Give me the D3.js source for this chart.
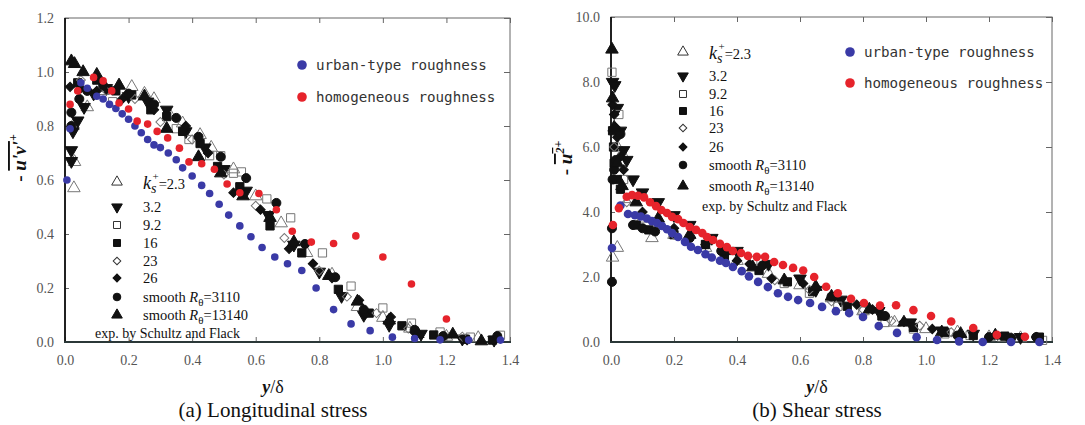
<!DOCTYPE html>
<html><head><meta charset="utf-8">
<script src="https://cdn.jsdelivr.net/npm/d3@7"></script>
<style>body{margin:0;background:#fff}svg{display:block}</style>
</head><body><svg id="c" width="1085" height="425"></svg>
<script>
// ---------- DATA ----------
const xTicks = [0, 0.2, 0.4, 0.6, 0.8, 1.0, 1.2, 1.4];
const yTicksA = [0, 0.2, 0.4, 0.6, 0.8, 1.0, 1.2];
const yTicksB = [0, 2, 4, 6, 8, 10];

const urbanA = [[0.006,0.60],[0.016,0.79],[0.05,0.96],[0.07,0.94],[0.10,0.91],[0.12,0.90],[0.14,0.88],[0.16,0.865],[0.18,0.845],[0.20,0.825],[0.22,0.80],[0.24,0.775],[0.26,0.75],[0.28,0.73],[0.30,0.72],[0.325,0.70],[0.35,0.675],[0.37,0.645],[0.40,0.615],[0.43,0.58],[0.455,0.55],[0.485,0.51],[0.515,0.47],[0.55,0.43],[0.585,0.39],[0.62,0.35],[0.66,0.315],[0.70,0.29],[0.745,0.265],[0.79,0.20],[0.845,0.12],[0.90,0.067],[0.96,0.042],[1.03,0.018],[1.10,0.013],[1.18,0.008],[1.27,0.007],[1.37,0.007]];
const homoA = [[0.016,0.88],[0.04,0.93],[0.09,0.98],[0.12,0.967],[0.147,0.93],[0.17,0.885],[0.20,0.863],[0.227,0.818],[0.26,0.807],[0.29,0.78],[0.323,0.756],[0.36,0.718],[0.39,0.667],[0.43,0.66],[0.47,0.64],[0.51,0.585],[0.55,0.553],[0.61,0.55],[0.665,0.49],[0.715,0.41],[0.775,0.37],[0.845,0.365],[0.915,0.393],[1.0,0.315],[1.09,0.215],[1.20,0.085]];

const ks23A = [[0.028,0.57],[0.03,0.667],[0.025,0.80],[0.07,0.87],[0.12,0.93],[0.17,0.95],[0.21,0.945],[0.25,0.92],[0.28,0.90],[0.33,0.84],[0.37,0.81],[0.425,0.767],[0.46,0.72],[0.53,0.64],[0.60,0.54],[0.68,0.44],[0.76,0.33],[0.84,0.25],[0.92,0.13],[1.0,0.09],[1.085,0.05],[1.2,0.02],[1.3,0.015]];
const ks32A = [[0.02,0.67],[0.02,0.71],[0.025,0.78],[0.04,0.82],[0.06,0.87],[0.09,0.92],[0.13,0.94],[0.20,0.91],[0.26,0.89],[0.32,0.86],[0.38,0.78],[0.44,0.72],[0.50,0.64],[0.57,0.56],[0.64,0.47],[0.72,0.36],[0.80,0.26],[0.87,0.17],[0.94,0.10],[1.02,0.063],[1.12,0.03],[1.25,0.012],[1.35,0.008]];
const ks92A = [[0.15,0.89],[0.35,0.79],[0.39,0.75],[0.455,0.69],[0.49,0.69],[0.53,0.625],[0.555,0.63],[0.635,0.53],[0.71,0.46],[0.81,0.33],[0.90,0.207],[1.0,0.126],[1.09,0.07],[1.18,0.037],[1.275,0.018],[1.37,0.025]];
const ks16A = [[0.04,0.96],[0.10,0.97],[0.16,0.93],[0.21,0.915],[0.27,0.86],[0.32,0.835],[0.37,0.78],[0.425,0.735],[0.48,0.65],[0.55,0.575],[0.645,0.43],[0.745,0.33],[0.86,0.195],[0.957,0.107],[1.06,0.06],[1.16,0.026],[1.26,0.01],[1.345,0.007]];
const ks23dA = [[0.05,0.97],[0.13,0.93],[0.22,0.90],[0.30,0.815],[0.40,0.75],[0.50,0.62],[0.60,0.505],[0.69,0.385],[0.80,0.264],[0.887,0.168],[0.98,0.107],[1.08,0.05],[1.25,0.02]];
const ks26A = [[0.016,0.945],[0.05,0.94],[0.10,0.93],[0.18,0.90],[0.28,0.86],[0.38,0.80],[0.45,0.70],[0.53,0.553],[0.615,0.49],[0.705,0.345],[0.78,0.29],[0.84,0.237],[0.925,0.155],[0.945,0.103],[1.025,0.093],[1.10,0.035],[1.265,0.007]];
const sm3110A = [[0.02,0.80],[0.02,0.85],[0.045,0.90],[0.07,0.93],[0.12,0.95],[0.20,0.92],[0.28,0.88],[0.35,0.83],[0.42,0.76],[0.49,0.686],[0.57,0.607],[0.665,0.515],[0.755,0.363],[0.85,0.24],[0.94,0.12],[1.10,0.045],[1.19,0.022],[1.36,0.022]];
const sm13140A = [[0.02,1.04],[0.03,1.03],[0.057,1.0],[0.10,0.99],[0.17,0.95],[0.25,0.91],[0.32,0.79],[0.42,0.685],[0.49,0.625],[0.56,0.54],[0.645,0.46],[0.72,0.37],[0.83,0.245],[0.92,0.15],[1.02,0.08],[1.11,0.03],[1.22,0.028],[1.31,0.003]];

const urbanB = [[0.003,2.89],[0.03,4.2],[0.054,3.94],[0.076,3.9],[0.095,3.86],[0.114,3.8],[0.13,3.72],[0.146,3.66],[0.162,3.57],[0.178,3.47],[0.194,3.35],[0.213,3.23],[0.235,3.08],[0.254,2.93],[0.276,2.83],[0.30,2.7],[0.32,2.6],[0.346,2.5],[0.365,2.43],[0.387,2.31],[0.415,2.18],[0.438,2.02],[0.467,1.85],[0.498,1.69],[0.53,1.5],[0.562,1.39],[0.594,1.29],[0.632,1.2],[0.67,1.08],[0.714,0.95],[0.756,0.89],[0.80,0.77],[0.85,0.49],[0.908,0.28],[0.97,0.15],[1.035,0.06],[1.105,0.02],[1.18,0.0],[1.27,0.0],[1.36,0.0]];
const homoB = [[0.006,3.6],[0.025,4.12],[0.05,4.47],[0.067,4.52],[0.086,4.5],[0.105,4.45],[0.124,4.3],[0.143,4.18],[0.16,4.06],[0.178,3.97],[0.194,3.85],[0.213,3.78],[0.23,3.66],[0.25,3.54],[0.27,3.45],[0.29,3.35],[0.305,3.23],[0.324,3.14],[0.346,3.02],[0.368,2.92],[0.387,2.8],[0.413,2.74],[0.435,2.65],[0.463,2.62],[0.489,2.62],[0.518,2.46],[0.546,2.37],[0.578,2.28],[0.61,2.2],[0.645,2.0],[0.683,1.7],[0.72,1.5],[0.762,1.33],[0.803,1.2],[0.854,1.12],[0.905,1.13],[0.96,0.98],[1.016,0.8],[1.08,0.63],[1.15,0.43],[1.225,0.22],[1.314,0.16]];

const ks23B = [[0.005,2.6],[0.02,2.9],[0.035,5.8],[0.02,6.0],[0.06,4.4],[0.10,3.8],[0.13,3.2],[0.20,3.3],[0.30,2.9],[0.40,2.5],[0.50,2.1],[0.60,1.75],[0.70,1.35],[0.80,0.95],[0.90,0.6],[1.0,0.4],[1.10,0.3],[1.20,0.15],[1.30,0.12]];
const ks32B = [[0.005,8.0],[0.012,7.9],[0.02,7.2],[0.03,6.5],[0.04,5.9],[0.05,5.6],[0.07,5.0],[0.10,4.6],[0.15,4.3],[0.20,3.9],[0.25,3.6],[0.32,3.2],[0.40,2.8],[0.50,2.4],[0.60,1.95],[0.65,1.6],[0.73,1.3],[0.85,0.95],[0.95,0.6],[1.05,0.35],[1.15,0.25],[1.30,0.15]];
const ks92B = [[0.003,8.3],[0.025,7.0],[0.04,5.0],[0.15,3.6],[0.30,3.0],[0.45,2.5],[0.55,1.8],[0.63,1.5],[0.72,1.1],[0.80,0.95],[0.87,0.6],[0.96,0.4],[1.06,0.25],[1.14,0.2],[1.24,0.15],[1.37,0.05]];
const ks16B = [[0.005,6.5],[0.008,6.0],[0.01,5.5],[0.02,5.0],[0.03,4.7],[0.08,3.6],[0.12,3.45],[0.20,3.3],[0.30,3.0],[0.36,2.6],[0.47,2.2],[0.56,1.85],[0.64,1.55],[0.75,1.1],[0.86,0.8],[0.96,0.45],[1.06,0.3],[1.15,0.2],[1.25,0.18],[1.36,0.15]];
const ks23dB = [[0.01,6.0],[0.05,4.3],[0.20,3.3],[0.40,2.5],[0.52,1.9],[0.63,1.6],[0.70,1.25],[0.80,1.0],[0.89,0.65],[0.98,0.5],[1.08,0.3],[1.27,0.15]];
const ks26B = [[0.005,7.3],[0.01,7.0],[0.015,6.6],[0.02,6.3],[0.03,5.7],[0.04,5.3],[0.10,4.0],[0.20,3.5],[0.30,3.0],[0.40,2.5],[0.44,2.4],[0.51,1.95],[0.61,1.8],[0.71,1.4],[0.78,1.15],[0.83,1.0],[0.93,0.62],[1.02,0.4],[1.11,0.2],[1.26,0.15],[1.35,0.15]];
const sm3110B = [[0.003,1.85],[0.003,3.5],[0.005,5.0],[0.01,5.3],[0.015,5.6],[0.03,6.4],[0.07,3.6],[0.10,3.5],[0.14,3.4],[0.25,3.2],[0.35,2.8],[0.48,2.35],[0.70,1.4],[0.87,0.8],[1.10,0.2],[1.20,0.15],[1.27,0.12],[1.35,0.15]];
const sm13140B = [[0.003,9.0],[0.005,7.5],[0.01,6.6],[0.02,5.5],[0.035,4.8],[0.08,4.3],[0.15,3.8],[0.25,3.3],[0.37,2.8],[0.45,2.3],[0.55,1.9],[0.65,1.7],[0.70,1.4],[0.82,1.0],[0.93,0.6],[1.05,0.3],[1.11,0.25],[1.22,0.2]];

const legendLabels = ["2.3","3.2","9.2","16","23","26","3110","13140"];

// ---------- DRAW ----------
const svg = d3.select('#c');
const serif = '"Liberation Serif","Times New Roman",serif';
const mono = '"DejaVu Sans Mono",monospace';
const BLUE = '#3a3aa6', RED = '#e6232b', BLK = '#111';

const symDefs = [
  {type: d3.symbolTriangle, rot: 0, fill: 'none', stroke: '#777', size: 68},
  {type: d3.symbolTriangle, rot: 180, fill: BLK, stroke: BLK, size: 68},
  {type: d3.symbolSquare, rot: 0, fill: 'none', stroke: '#777', size: 68},
  {type: d3.symbolSquare, rot: 0, fill: BLK, stroke: BLK, size: 68},
  {type: d3.symbolSquare, rot: 45, fill: 'none', stroke: '#777', size: 40},
  {type: d3.symbolSquare, rot: 45, fill: BLK, stroke: BLK, size: 44},
  {type: d3.symbolCircle, rot: 0, fill: BLK, stroke: BLK, size: 64},
  {type: d3.symbolTriangle, rot: 0, fill: BLK, stroke: BLK, size: 68}
];

function drawMarks(g, data, def, x, y) {
  g.selectAll(null).data(data).enter().append('path')
    .attr('d', d3.symbol().type(def.type).size(def.size))
    .attr('transform', d => `translate(${x(d[0])},${y(d[1])}) rotate(${def.rot})`)
    .attr('fill', def.fill).attr('stroke', def.stroke).attr('stroke-width', 1);
}

function panel(o) {
  const x = d3.scaleLinear().domain([0, 1.4]).range(o.xr);
  const y = d3.scaleLinear().domain(o.yd).range(o.yr);
  const g = svg.append('g');
  const x0 = o.xr[0], x1 = o.xr[1], yb = o.yr[0], yt = o.yr[1];

  g.append('rect').attr('x', x0).attr('y', yt).attr('width', x1 - x0).attr('height', yb - yt)
    .attr('fill', 'none').attr('stroke', '#666').attr('stroke-width', 1);

  const styleAxis = sel => {
    sel.select('.domain').remove();
    sel.selectAll('line').attr('stroke', '#666');
    sel.selectAll('text').attr('font-family', serif).attr('font-size', 14).attr('fill', '#555');
  };
  g.append('g').attr('transform', `translate(0,${yb})`)
    .call(d3.axisBottom(x).tickValues(xTicks).tickFormat(d3.format('.1f')).tickSize(-5).tickPadding(13))
    .call(styleAxis);
  g.append('g').attr('transform', `translate(0,${yt})`)
    .call(d3.axisTop(x).tickValues(xTicks).tickFormat('').tickSize(-5)).call(styleAxis);
  g.append('g').attr('transform', `translate(${x0},0)`)
    .call(d3.axisLeft(y).tickValues(o.yt).tickFormat(d3.format('.1f')).tickSize(-4).tickPadding(11))
    .call(styleAxis);
  g.append('g').attr('transform', `translate(${x1},0)`)
    .call(d3.axisRight(y).tickValues(o.yt).tickFormat('').tickSize(-6)).call(styleAxis);

  g.append('line').attr('x1', x0).attr('x2', x0).attr('y1', yt).attr('y2', yb + 1)
    .attr('stroke', '#111').attr('stroke-width', 1.8);
  g.append('line').attr('x1', x0 - 1).attr('x2', x1 + 1).attr('y1', yb).attr('y2', yb)
    .attr('stroke', '#2b3838').attr('stroke-width', 2);

  o.sf.forEach((data, i) => drawMarks(g, data, symDefs[i], x, y));
  const circ = (data, col, r) => g.selectAll(null).data(data).enter().append('circle')
    .attr('cx', d => x(d[0])).attr('cy', d => y(d[1])).attr('r', r).attr('fill', col);
  circ(o.urban, BLUE, o.r);
  circ(o.homo, RED, o.r);

  const cl = [[o.cLeg[1], BLUE, 'urban-type roughness'], [o.cLeg[2], RED, 'homogeneous roughness']];
  cl.forEach(([yy, col, txt]) => {
    g.append('circle').attr('cx', o.cLeg[0]).attr('cy', yy).attr('r', 4.8).attr('fill', col);
    g.append('text').attr('x', o.cLeg[0] + 14).attr('y', yy + 5).attr('font-family', mono)
      .attr('font-size', 14.2).attr('fill', '#333').text(txt);
  });

  o.sRows.forEach((yy, i) => {
    const def = Object.assign({}, symDefs[i], {size: symDefs[i].size * 0.72});
    g.append('path').attr('d', d3.symbol().type(def.type).size(def.size))
      .attr('transform', `translate(${o.sX},${yy}) rotate(${def.rot})`)
      .attr('fill', def.fill === 'none' ? 'none' : BLK).attr('stroke', def.fill === 'none' ? '#333' : BLK);
    const t = g.append('text').attr('x', o.sX + 26).attr('y', yy + 5)
      .attr('font-family', serif).attr('font-size', 14.5).attr('fill', '#111');
    const lab = legendLabels[i];
    if (i === 0) {
      t.attr('y', yy + 7);
      t.append('tspan').attr('font-style', 'italic').attr('font-size', 18).text('k');
      t.append('tspan').attr('font-style', 'italic').attr('font-size', 14).attr('dy', 4).text('s');
      t.append('tspan').attr('font-size', 11).attr('dx', -4).attr('dy', -13).text('+');
      t.append('tspan').attr('dy', 9).text('=' + lab);
    } else if (i >= 6) {
      t.append('tspan').text('smooth ');
      t.append('tspan').attr('font-style', 'italic').text('R');
      t.append('tspan').attr('font-size', 11).attr('dy', 4).text('θ');
      t.append('tspan').attr('dy', -4).text('=' + lab);
    } else {
      t.text(lab);
    }
  });
  g.append('text').attr('x', o.expPos[0]).attr('y', o.expPos[1]).attr('font-family', serif)
    .attr('font-size', 14).attr('fill', '#111').text('exp. by Schultz and Flack');

  const xt = g.append('text').attr('x', o.cx).attr('y', 393).attr('text-anchor', 'middle')
    .attr('font-family', serif).attr('font-size', 18).attr('fill', '#111');
  xt.append('tspan').attr('font-style', 'italic').attr('font-weight', 'bold').text('y');
  xt.append('tspan').text('/δ');
  g.append('text').attr('x', o.cx).attr('y', 417).attr('text-anchor', 'middle')
    .attr('font-family', serif).attr('font-size', 21).attr('fill', '#111').text(o.caption);

  const yt2 = g.append('text').attr('transform', `translate(${o.yTitle[0]},${o.yTitle[1]}) rotate(-90)`)
    .attr('text-anchor', 'middle').attr('font-family', serif).attr('font-size', 19)
    .attr('font-weight', 'bold').attr('fill', '#111');
  yt2.append('tspan').text('- ');
  o.yLab(yt2);
}

panel({
  xr: [65, 510], yr: [342, 18], yd: [0, 1.2], yt: yTicksA,
  urban: urbanA, homo: homoA, r: 3.8,
  sf: [ks23A, ks32A, ks92A, ks16A, ks23dA, ks26A, sm3110A, sm13140A],
  cLeg: [302, 65, 97],
  sX: 117, sRows: [182, 207, 225, 243, 261, 278, 297, 315], expPos: [95, 338],
  cx: 273, caption: '(a) Longitudinal stress', yTitle: [26, 158],
  yLab: t => {
    t.append('tspan').attr('font-style', 'italic').attr('text-decoration', 'overline').text("u'v'");
    t.append('tspan').attr('font-size', 12).attr('dy', -9).text('+');
  }
});
panel({
  xr: [611, 1052], yr: [342, 17], yd: [0, 10], yt: yTicksB,
  urban: urbanB, homo: homoB, r: 4.3,
  sf: [ks23B, ks32B, ks92B, ks16B, ks23dB, ks26B, sm3110B, sm13140B],
  cLeg: [850, 52, 83],
  sX: 683, sRows: [52, 76, 94, 111, 128, 147, 165, 186], expPos: [702, 211],
  cx: 817, caption: '(b) Shear stress', yTitle: [572, 158],
  yLab: t => {
    const u = t.append('tspan').attr('font-style', 'italic').attr('text-decoration', 'overline');
    u.append('tspan').text('u');
    u.append('tspan').attr('font-size', 12).attr('dy', -8).text('2');
    t.append('tspan').attr('font-size', 12).attr('dy', -2).text('+');
  }
});
</script></body></html>
